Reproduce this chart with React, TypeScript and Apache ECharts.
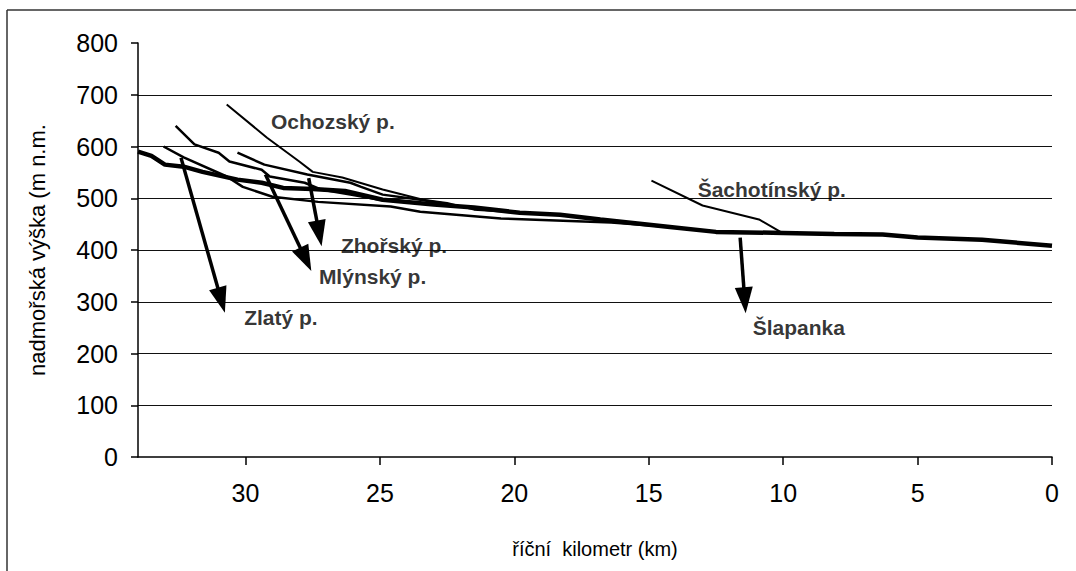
import React, { useEffect, useRef } from "react";
import * as echarts from "echarts";

// main river (thick line)
const mainKm = [34, 33.5, 33.0, 32.3, 31.6, 30.3, 29.4, 28.6, 27.5, 26.3, 24.9, 23.0, 21.5, 19.8, 18.3, 16.8, 14.3, 12.5, 10.0, 8.1, 6.3, 5.0, 2.6, 0];
const mainElev = [590, 582, 565, 561, 551, 536, 530, 520, 518, 514, 497, 488, 482, 472, 468, 459, 445, 435, 433, 431, 430, 424, 420, 408];

// thin profiles
const l1Km = [33.05, 32.3, 30.7, 30.1, 29.0, 27.3, 24.6, 23.5, 20.5, 16.4, 14.3];
const l1Elev = [600, 579, 542, 522, 503, 493, 484, 474, 461, 453, 445];
const l2Km = [32.6, 31.9, 31.0, 30.6, 29.4, 29.1, 27.8, 27.2, 26.1, 25.0, 23.0];
const l2Elev = [640, 604, 588, 571, 555, 542, 530, 517, 507, 497, 488];
const l3Km = [30.3, 29.3, 27.7, 26.1, 25.7, 24.9, 23.5, 22.4];
const l3Elev = [588, 565, 546, 530, 522, 507, 497, 488];
const ochKm = [30.7, 29.2, 28.0, 27.5, 26.4, 24.9, 23.4, 22.5, 21.5, 19.8];
const ochElev = [681, 617, 571, 551, 540, 517, 497, 491, 478, 472];
const sachKm = [14.9, 13.0, 10.9, 10.1];
const sachElev = [534, 486, 459, 435];

// arrows (start -> end)
const arrowFromKm = [32.4, 29.26, 27.65, 11.6];
const arrowFromElev = [578, 546, 539, 424];
const arrowToKm = [30.9, 27.76, 27.26, 11.43];
const arrowToElev = [303, 382, 432, 303];

// labels
const labelNames = ["Ochozský p.", "Zhořský p.", "Mlýnský p.", "Zlatý p.", "Šachotínský p.", "Šlapanka"];
const labelKm = [29.07, 26.47, 27.29, 30.07, 13.2, 11.15];
const labelElev = [648, 408, 348, 269, 517, 250];

const yTicks = [0, 100, 200, 300, 400, 500, 600, 700, 800];

const FONT = '"Liberation Sans", Arial, sans-serif';

const zip = (a: number[], b: number[]) => a.map((v, i) => [v, b[i]]);

export default function App() {
  const ref = useRef<HTMLDivElement>(null);
  useEffect(() => {
    if (!ref.current) return;
    const chart = echarts.init(ref.current, null, { renderer: "svg" });
    const thin = (name: string, km: number[], el: number[], w: number) => ({
      name,
      type: "line",
      data: zip(km, el),
      symbol: "none",
      lineStyle: { color: "#000", width: w },
      z: 3,
    });
    chart.setOption({
      animation: false,
      backgroundColor: "#fff",
      textStyle: { fontFamily: FONT },
      grid: { left: 138, right: 24, top: 43, bottom: 114, containLabel: false, outerBoundsMode: "none" },
      graphic: [
        { type: "line", shape: { x1: 7, y1: 10, x2: 1076, y2: 10 }, style: { stroke: "#333", lineWidth: 1.5 } },
        { type: "line", shape: { x1: 7, y1: 10, x2: 7, y2: 571 }, style: { stroke: "#333", lineWidth: 1.5 } },
      ],
      xAxis: {
        type: "value",
        inverse: true,
        min: 0,
        max: 34,
        interval: 5,
        name: "říční  kilometr (km)",
        nameLocation: "middle",
        nameGap: 82,
        nameTextStyle: { fontSize: 20, color: "#000", fontFamily: FONT },
        axisLine: { show: true, onZero: false, lineStyle: { color: "#000", width: 1.5 } },
        axisTick: { show: true, inside: false, length: 8, lineStyle: { color: "#000", width: 1.5 } },
        axisLabel: {
          fontSize: 25,
          color: "#000",
          margin: 23,
          fontFamily: FONT,
          showMaxLabel: false,
          formatter: (v: number) => (v % 5 === 0 ? String(v) : ""),
        },
        splitLine: { show: false },
      },
      yAxis: {
        type: "value",
        position: "left",
        min: 0,
        max: 800,
        interval: 100,
        name: "nadmořská výška (m n.m.",
        nameLocation: "middle",
        nameGap: 90,
        nameTextStyle: { fontSize: 22, color: "#000", fontFamily: FONT },
        axisLine: { show: true, onZero: false, lineStyle: { color: "#000", width: 1.5 } },
        axisTick: { show: true, inside: false, length: 7, lineStyle: { color: "#000", width: 1.5 } },
        axisLabel: {
          fontSize: 25,
          color: "#000",
          margin: 20,
          fontFamily: FONT,
          formatter: (v: number) => (yTicks.includes(v) ? String(v) : ""),
        },
        splitLine: {
          show: true,
          lineStyle: {
            color: ["transparent", "#111", "#111", "#111", "#111", "#111", "#111", "#111", "transparent"],
            width: 1,
          },
        },
      },
      series: [
        thin("Ochozský", ochKm, ochElev, 2),
        thin("L2", l2Km, l2Elev, 2.5),
        thin("L3", l3Km, l3Elev, 2.5),
        thin("L1", l1Km, l1Elev, 2.5),
        thin("Šachotínský", sachKm, sachElev, 2),
        {
          name: "main",
          type: "line",
          data: zip(mainKm, mainElev),
          symbol: "none",
          lineStyle: { color: "#000", width: 4.5 },
          z: 4,
          markLine: {
            silent: true,
            symbol: ["none", "triangle"],
            symbolSize: [18, 26],
            label: { show: false },
            lineStyle: { color: "#000", width: 3.5, type: "solid" },
            data: arrowFromKm.map((k, i) => [
              { coord: [k, arrowFromElev[i]], symbol: "none" },
              { coord: [arrowToKm[i], arrowToElev[i]], symbol: "triangle", symbolSize: [18, 26] },
            ]),
          },
        },
        {
          name: "labels",
          type: "scatter",
          data: labelNames.map((n, i) => ({ value: [labelKm[i], labelElev[i]], name: n })),
          symbolSize: 1,
          itemStyle: { color: "transparent" },
          label: {
            show: true,
            position: "right",
            distance: 0,
            formatter: (p: any) => p.name,
            fontSize: 21,
            fontWeight: "bold",
            color: "#000",
            fontFamily: FONT,
          },
          z: 5,
        },
      ],
    });
    return () => chart.dispose();
  }, []);
  return <div ref={ref} style={{ position: "fixed", left: 0, top: 0, width: 1076, height: 571 }} />;
}
